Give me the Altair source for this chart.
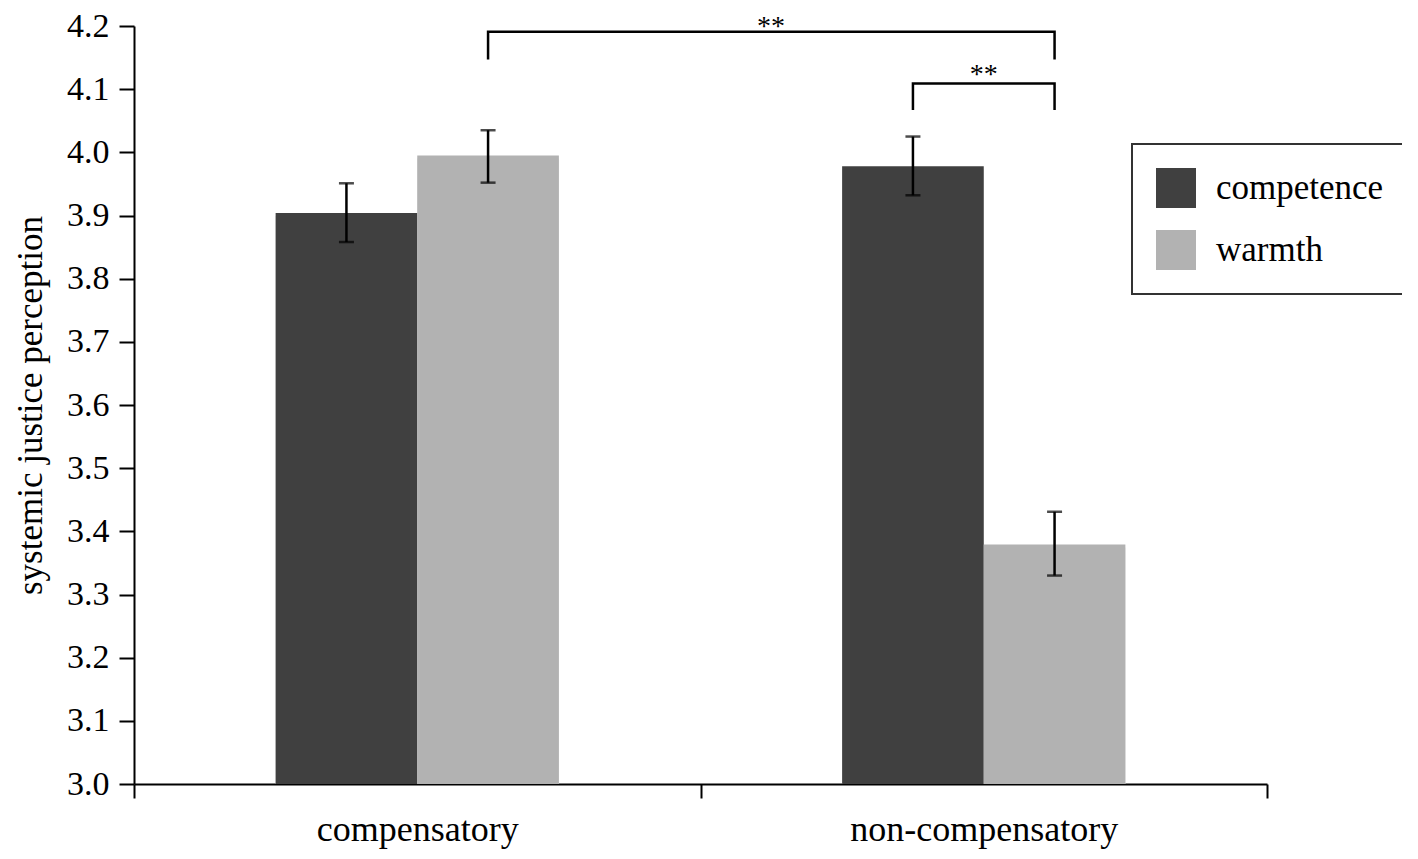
import altair as alt
import pandas as pd

# ---- data ----
conditions = ["compensatory", "compensatory", "non-compensatory", "non-compensatory"]
traits = ["competence", "warmth", "competence", "warmth"]
means = [3.904, 3.995, 3.978, 3.379]
err_low = [3.858, 3.952, 3.932, 3.330]
err_high = [3.951, 4.035, 4.025, 3.431]

category_order = ["compensatory", "non-compensatory"]
trait_order = ["competence", "warmth"]
trait_colors = ["#404040", "#b2b2b2"]
y_ticks = [3.0, 3.1, 3.2, 3.3, 3.4, 3.5, 3.6, 3.7, 3.8, 3.9, 4.0, 4.1, 4.2]

# significance brackets (path points)
br_id = [1, 1, 1, 1, 2, 2, 2, 2]
br_order = [0, 1, 2, 3, 0, 1, 2, 3]
br_condition = ["compensatory", "compensatory", "non-compensatory", "non-compensatory",
                "non-compensatory", "non-compensatory", "non-compensatory", "non-compensatory"]
br_trait = ["warmth", "warmth", "warmth", "warmth",
            "competence", "competence", "warmth", "warmth"]
br_y = [4.147, 4.191, 4.191, 4.147, 4.067, 4.109, 4.109, 4.067]

star_label = ["**", "**"]
star_y = [4.199, 4.1217]

FONT = "Liberation Serif"

df = pd.DataFrame({"condition": conditions, "trait": traits, "mean": means,
                   "lo": err_low, "hi": err_high})
br = pd.DataFrame({"id": br_id, "ord": br_order, "condition": br_condition,
                   "trait": br_trait, "y": br_y})

x_enc = alt.X("condition:N", sort=category_order,
              scale=alt.Scale(paddingInner=0, paddingOuter=0),
              axis=alt.Axis(title=None, labelAngle=0, tickBand="extent", tickSize=14,
                            tickWidth=2, tickColor="black", domainColor="black",
                            domainWidth=2, labelFontSize=36, labelColor="black",
                            labelPadding=14, labelFont=FONT, labelLimit=600))
xo_enc = alt.XOffset("trait:N", sort=trait_order,
                     scale=alt.Scale(paddingOuter=1, paddingInner=0))
y_scale = alt.Scale(domain=[3.0, 4.2], nice=False, zero=False)

base = alt.Chart(df)

shadow = base.mark_bar(color="#e2e2e2", xOffset=3, yOffset=3).encode(
    x=x_enc, xOffset=xo_enc,
    y=alt.Y("mean:Q", scale=y_scale),
    y2=alt.datum(3.0),
)

bars = base.mark_bar().encode(
    x=x_enc, xOffset=xo_enc,
    y=alt.Y("mean:Q", scale=y_scale,
            axis=alt.Axis(values=y_ticks, format=".1f",
                          title="systemic justice perception",
                          grid=False, tickSize=15, tickWidth=2, tickColor="black",
                          domainColor="black", domainWidth=2,
                          labelFontSize=34, labelColor="black", labelPadding=10,
                          labelFont=FONT, titleFont=FONT, titleFontSize=35,
                          titleFontWeight="normal", titleColor="black",
                          titlePadding=18)),
    y2=alt.datum(3.0),
    color=alt.Color("trait:N", sort=trait_order,
                    scale=alt.Scale(domain=trait_order, range=trait_colors),
                    legend=alt.Legend(title=None, orient="none", legendX=998, legendY=118,
                                      symbolType="square", symbolSize=1600,
                                      symbolStrokeWidth=0, symbolOpacity=1,
                                      labelFontSize=35, labelFont=FONT, labelColor="black",
                                      labelLimit=400,
                                      labelOffset=20, padding=24, rowPadding=22,
                                      strokeColor="#333333", fillColor="white")),
)

err_rule = base.mark_rule(color="black", strokeWidth=2.5).encode(
    x=x_enc, xOffset=xo_enc,
    y=alt.Y("lo:Q", scale=y_scale), y2="hi:Q",
)

caps = base.transform_fold(["lo", "hi"], as_=["k", "v"]).mark_tick(
    color="black", thickness=2.5, size=15
).encode(
    x=x_enc, xOffset=xo_enc,
    y=alt.Y("v:Q", scale=y_scale),
)

brackets = alt.Chart(br).mark_line(color="black", strokeWidth=2.5).encode(
    x=x_enc, xOffset=xo_enc,
    y=alt.Y("y:Q", scale=y_scale),
    detail="id:N", order="ord:Q",
)

star_big = alt.Chart(pd.DataFrame({"condition": ["compensatory"], "trait": ["warmth"],
                                   "t": [star_label[0]], "y": [star_y[0]]})).mark_text(
    fontSize=28, font=FONT, color="black", dx=283, baseline="middle"
).encode(x=x_enc, xOffset=xo_enc, y=alt.Y("y:Q", scale=y_scale), text="t:N")

star_small = alt.Chart(pd.DataFrame({"condition": ["non-compensatory"],
                                     "t": [star_label[1]], "y": [star_y[1]]})).mark_text(
    fontSize=28, font=FONT, color="black", baseline="middle"
).encode(x=x_enc, y=alt.Y("y:Q", scale=y_scale), text="t:N")

chart = alt.layer(shadow, bars, err_rule, caps, brackets, star_big, star_small).properties(
    width=1133, height=758,
    autosize=alt.AutoSizeParams(type="none"),
    padding={"left": 126, "top": 18, "right": 135, "bottom": 70},
).configure(font=FONT).configure_view(strokeWidth=0).configure_legend(strokeWidth=2)

chart.save("out.html", embed_options={"renderer": "svg", "actions": False})
